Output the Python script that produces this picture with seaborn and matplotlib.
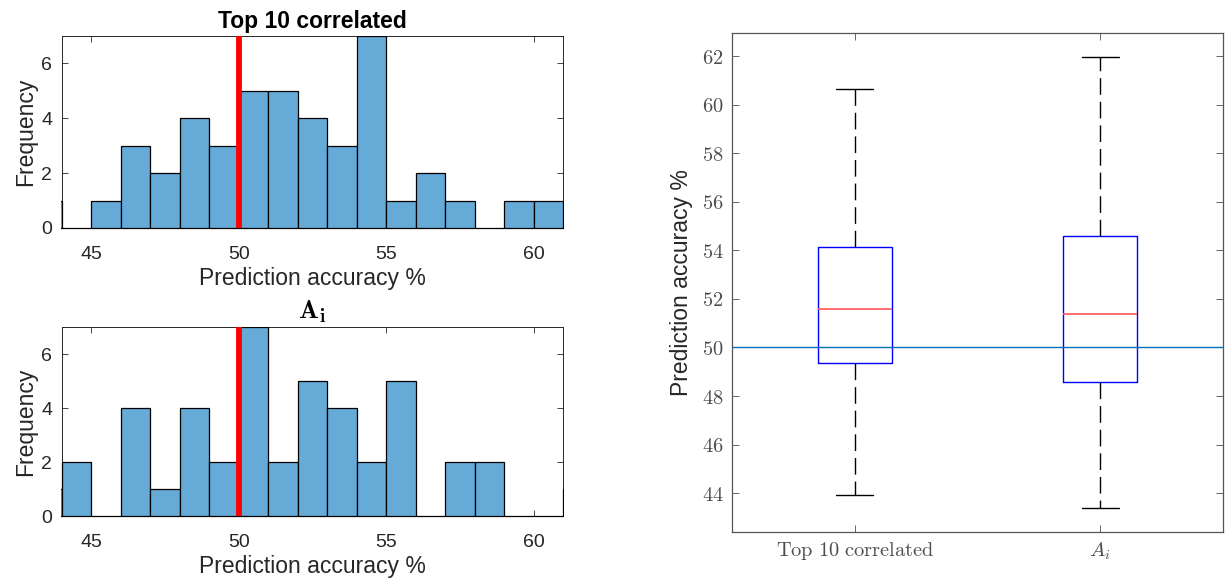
import numpy as np
import pandas as pd
import matplotlib
matplotlib.use("Agg")
import matplotlib.pyplot as plt
from matplotlib.transforms import Bbox, TransformedBbox
import seaborn as sns

# histogram bins (width 1) and counts
bin_edges = list(range(43, 63))
top_counts = [1, 0, 1, 3, 2, 4, 3, 5, 5, 4, 3, 7, 1, 2, 1, 0, 1, 1, 0]
ai_counts = [1, 2, 0, 4, 1, 4, 2, 7, 2, 5, 4, 2, 5, 0, 2, 2, 0, 0, 1]

# boxplot five-number summaries (min, q1, median, q3, max)
groups = ["Top 10 correlated", "A_i"]
top_box = [43.92, 49.35, 51.57, 54.14, 60.64]
ai_box = [43.40, 48.59, 51.36, 54.60, 61.95]
chance = 50

sns.set_style("ticks")
plt.rcParams["font.family"] = ["Liberation Sans", "DejaVu Sans"]
plt.rcParams["mathtext.fontset"] = "cm"

grey = "#262626"
bar_color = "#66aad7"

fig = plt.figure(figsize=(12.3, 5.85), dpi=100)
ax1 = fig.add_axes([0.0504, 0.6103, 0.4073, 0.3282])
ax2 = fig.add_axes([0.0504, 0.1179, 0.4073, 0.3231])
ax3 = fig.add_axes([0.5951, 0.0906, 0.3992, 0.8530])

centers = [e + 0.5 for e in bin_edges[:-1]]

for ax, counts, title in [(ax1, top_counts, "Top 10 correlated"),
                          (ax2, ai_counts, r"$\mathbf{A_i}$")]:
    sns.histplot(x=centers, weights=counts, bins=bin_edges, ax=ax,
                 color=bar_color, alpha=1, edgecolor="black", linewidth=0.9)
    ax.axvline(chance, color="red", lw=4.2, zorder=3)
    ax.set_xlim(44, 61)
    ax.set_ylim(0, 7)
    # let edge lines sitting on the axes border show fully (like matlab)
    clip = TransformedBbox(Bbox([[43.97, -0.1], [61.03, 7.0]]), ax.transData)
    for p in ax.patches:
        p.set_zorder(2.6)
        p.set_clip_path(None)
        p.set_clip_box(clip)
    ax.set_xticks([45, 50, 55, 60])
    ax.set_yticks([0, 2, 4, 6])
    ax.tick_params(axis="x", pad=13)
    ax.tick_params(axis="y", pad=7)
    ax.tick_params(direction="in", top=True, right=True, length=4, width=0.6,
                   labelsize=14, colors=grey)
    ax.set_xlabel("Prediction accuracy %", fontsize=16.5, color=grey, labelpad=3)
    ax.set_ylabel("Frequency", fontsize=16.5, color=grey, labelpad=3)
    for s in ax.spines.values():
        s.set_color(grey)
        s.set_linewidth(0.7)
    if title.startswith("$"):
        ax.set_title(title, fontsize=19, color="black", pad=6)
    else:
        ax.set_title(title, fontsize=16.5, fontweight="bold", color="black", pad=6)

# boxplot
box_df = pd.DataFrame({
    "group": [groups[0]] * 5 + [groups[1]] * 5,
    "value": top_box + ai_box,
})
sns.boxplot(data=box_df, x="group", y="value", ax=ax3, width=0.3, fill=False,
            whis=1.5, linewidth=1.0,
            boxprops=dict(color="blue"),
            medianprops=dict(color="#ff5555", linewidth=1.2),
            whiskerprops=dict(color="black", linestyle=(0, (12, 5))),
            capprops=dict(color="black"))
ax3.axhline(chance, color="#0072BD", lw=1.0)
ax3.set_xlim(-0.5, 1.5)
ax3.set_ylim(42.4, 62.95)
yt = list(range(44, 63, 2))
ax3.set_yticks(yt)
ax3.set_yticklabels([rf"${v}$" for v in yt])
ax3.set_xticks([0, 1])
ax3.set_xticklabels([r"$\mathrm{Top\ 10\ correlated}$", r"$A_i$"])
ax3.tick_params(direction="in", top=True, right=True, length=5, width=0.6,
                labelsize=14.7, colors="#4d4d4d", pad=6)
ax3.set_xlabel("")
ax3.set_ylabel("Prediction accuracy %", fontsize=16.5, color=grey, labelpad=6)
for s in ax3.spines.values():
    s.set_color("#555555")
    s.set_linewidth(0.9)

fig.savefig("out.png", dpi=100)
